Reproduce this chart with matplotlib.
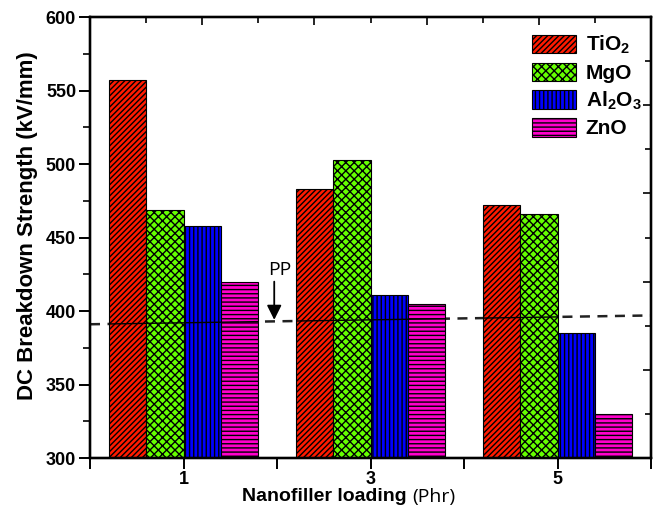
import numpy as np
import matplotlib
matplotlib.use('Agg')
import matplotlib.pyplot as plt
from matplotlib.ticker import MultipleLocator

plt.rcParams['font.family'] = ['Liberation Sans', 'DejaVu Sans']
plt.rcParams['mathtext.fontset'] = 'custom'
plt.rcParams['mathtext.rm'] = 'Liberation Sans:bold'
plt.rcParams['mathtext.default'] = 'rm'
plt.rcParams['hatch.linewidth'] = 1.0

# data
loading = [1, 3, 5]
fillers = ['TiO$_2$', 'MgO', 'Al$_2$O$_3$', 'ZnO']
tio2 = [557, 483, 472]
mgo = [469, 503, 466]
al2o3 = [458, 411, 385]
zno = [420, 405, 330]
pp_line_x = [0, 6]
pp_line_y = [391, 397]

values = [tio2, mgo, al2o3, zno]
colors = ['#ff1a00', '#66ff00', '#0000ff', '#ff00cc']
hatches = ['//////', 'xxxx', '||||', '----']

fig = plt.figure(figsize=(6.57, 5.08), dpi=100)
ax = fig.add_axes([0.137, 0.0984, 0.854, 0.868])

w = 0.4
offsets = [-0.6, -0.2, 0.2, 0.6]
x = np.array(loading)
containers = []
for vals, c, h, lab, off in zip(values, colors, hatches, fillers, offsets):
    bc = ax.bar(x + off, np.array(vals) - 300, w, bottom=300, color=c, edgecolor='black',
                hatch=h, linewidth=0.8, label=lab, zorder=2)
    containers.append(bc)

# reference line for pure polymer: dashed in the gaps, thin solid over the bars
ax.plot(pp_line_x, pp_line_y, color='#222222', lw=1.8, ls=(0, (4, 3)), zorder=1)
for bc in containers:
    for rect in bc:
        ln, = ax.plot(pp_line_x, pp_line_y, color='black', lw=1.0, zorder=3)
        ln.set_clip_path(rect)

ax.annotate('', xy=(1.97, 394), xytext=(1.97, 420),
            arrowprops=dict(arrowstyle='-|>', color='black', lw=1.3, mutation_scale=22,
                            shrinkA=0, shrinkB=0))
ax.text(2.03, 428, 'PP', ha='center', va='center', fontsize=14, family='Open Sans')

ax.set_xlim(0, 6)
ax.set_ylim(300, 600)
ax.set_xticks([0, 1, 2, 3, 4, 5, 6])
ax.set_xticklabels(['', '1', '', '3', '', '5', ''])
ax.yaxis.set_major_locator(MultipleLocator(50))
ax.yaxis.set_minor_locator(MultipleLocator(25))
ax.tick_params(axis='both', which='major', direction='out', length=8, width=1.4,
               labelsize=13, pad=2)
ax.tick_params(axis='x', which='major', pad=1)
ax.tick_params(axis='y', which='minor', direction='out', length=5, width=1.2)
for lab in ax.get_xticklabels() + ax.get_yticklabels():
    lab.set_fontweight('bold')
for s in ax.spines.values():
    s.set_linewidth(1.6)

ax.set_ylabel('DC Breakdown Strength (kV/mm)', fontsize=16, fontweight='bold')
ax.yaxis.set_label_coords(-0.093, 0.527)

# x label: bold part plus a regular "(Phr)" placed right after it
t1 = fig.text(0.368, 0.022, 'Nanofiller loading ', fontsize=14, fontweight='bold',
              ha='left', va='center')
fig.canvas.draw()
bb = t1.get_window_extent(renderer=fig.canvas.get_renderer())
fig.text(bb.x1 / fig.bbox.width, 0.022, '(Phr)', fontsize=14, family='Open Sans',
         ha='left', va='center')

# top and right spine ticks
axr = ax.twinx()
axr.set_ylim(300, 600)
axr.yaxis.set_major_locator(MultipleLocator(60))
axr.yaxis.set_minor_locator(MultipleLocator(30))
axr.tick_params(axis='y', which='major', direction='in', length=6, width=1.2, labelright=False)
axr.tick_params(axis='y', which='minor', direction='in', length=4, width=1.2)
axt = ax.twiny()
axt.set_xlim(0, 6)
axt.xaxis.set_major_locator(MultipleLocator(1.2))
axt.xaxis.set_minor_locator(MultipleLocator(0.6))
axt.tick_params(axis='x', which='major', direction='in', length=6, width=1.2, labeltop=False)
axt.tick_params(axis='x', which='minor', direction='in', length=4, width=1.2)
for a in (axr, axt):
    for s in a.spines.values():
        s.set_linewidth(1.6)

leg = ax.legend(loc='upper left', bbox_to_anchor=(0.77, 0.985), frameon=False,
                handlelength=2.1, handleheight=1.0, labelspacing=0.3, handletextpad=0.45,
                borderpad=0, prop={'weight': 'bold', 'size': 15})

fig.savefig('out.png', dpi=100)
